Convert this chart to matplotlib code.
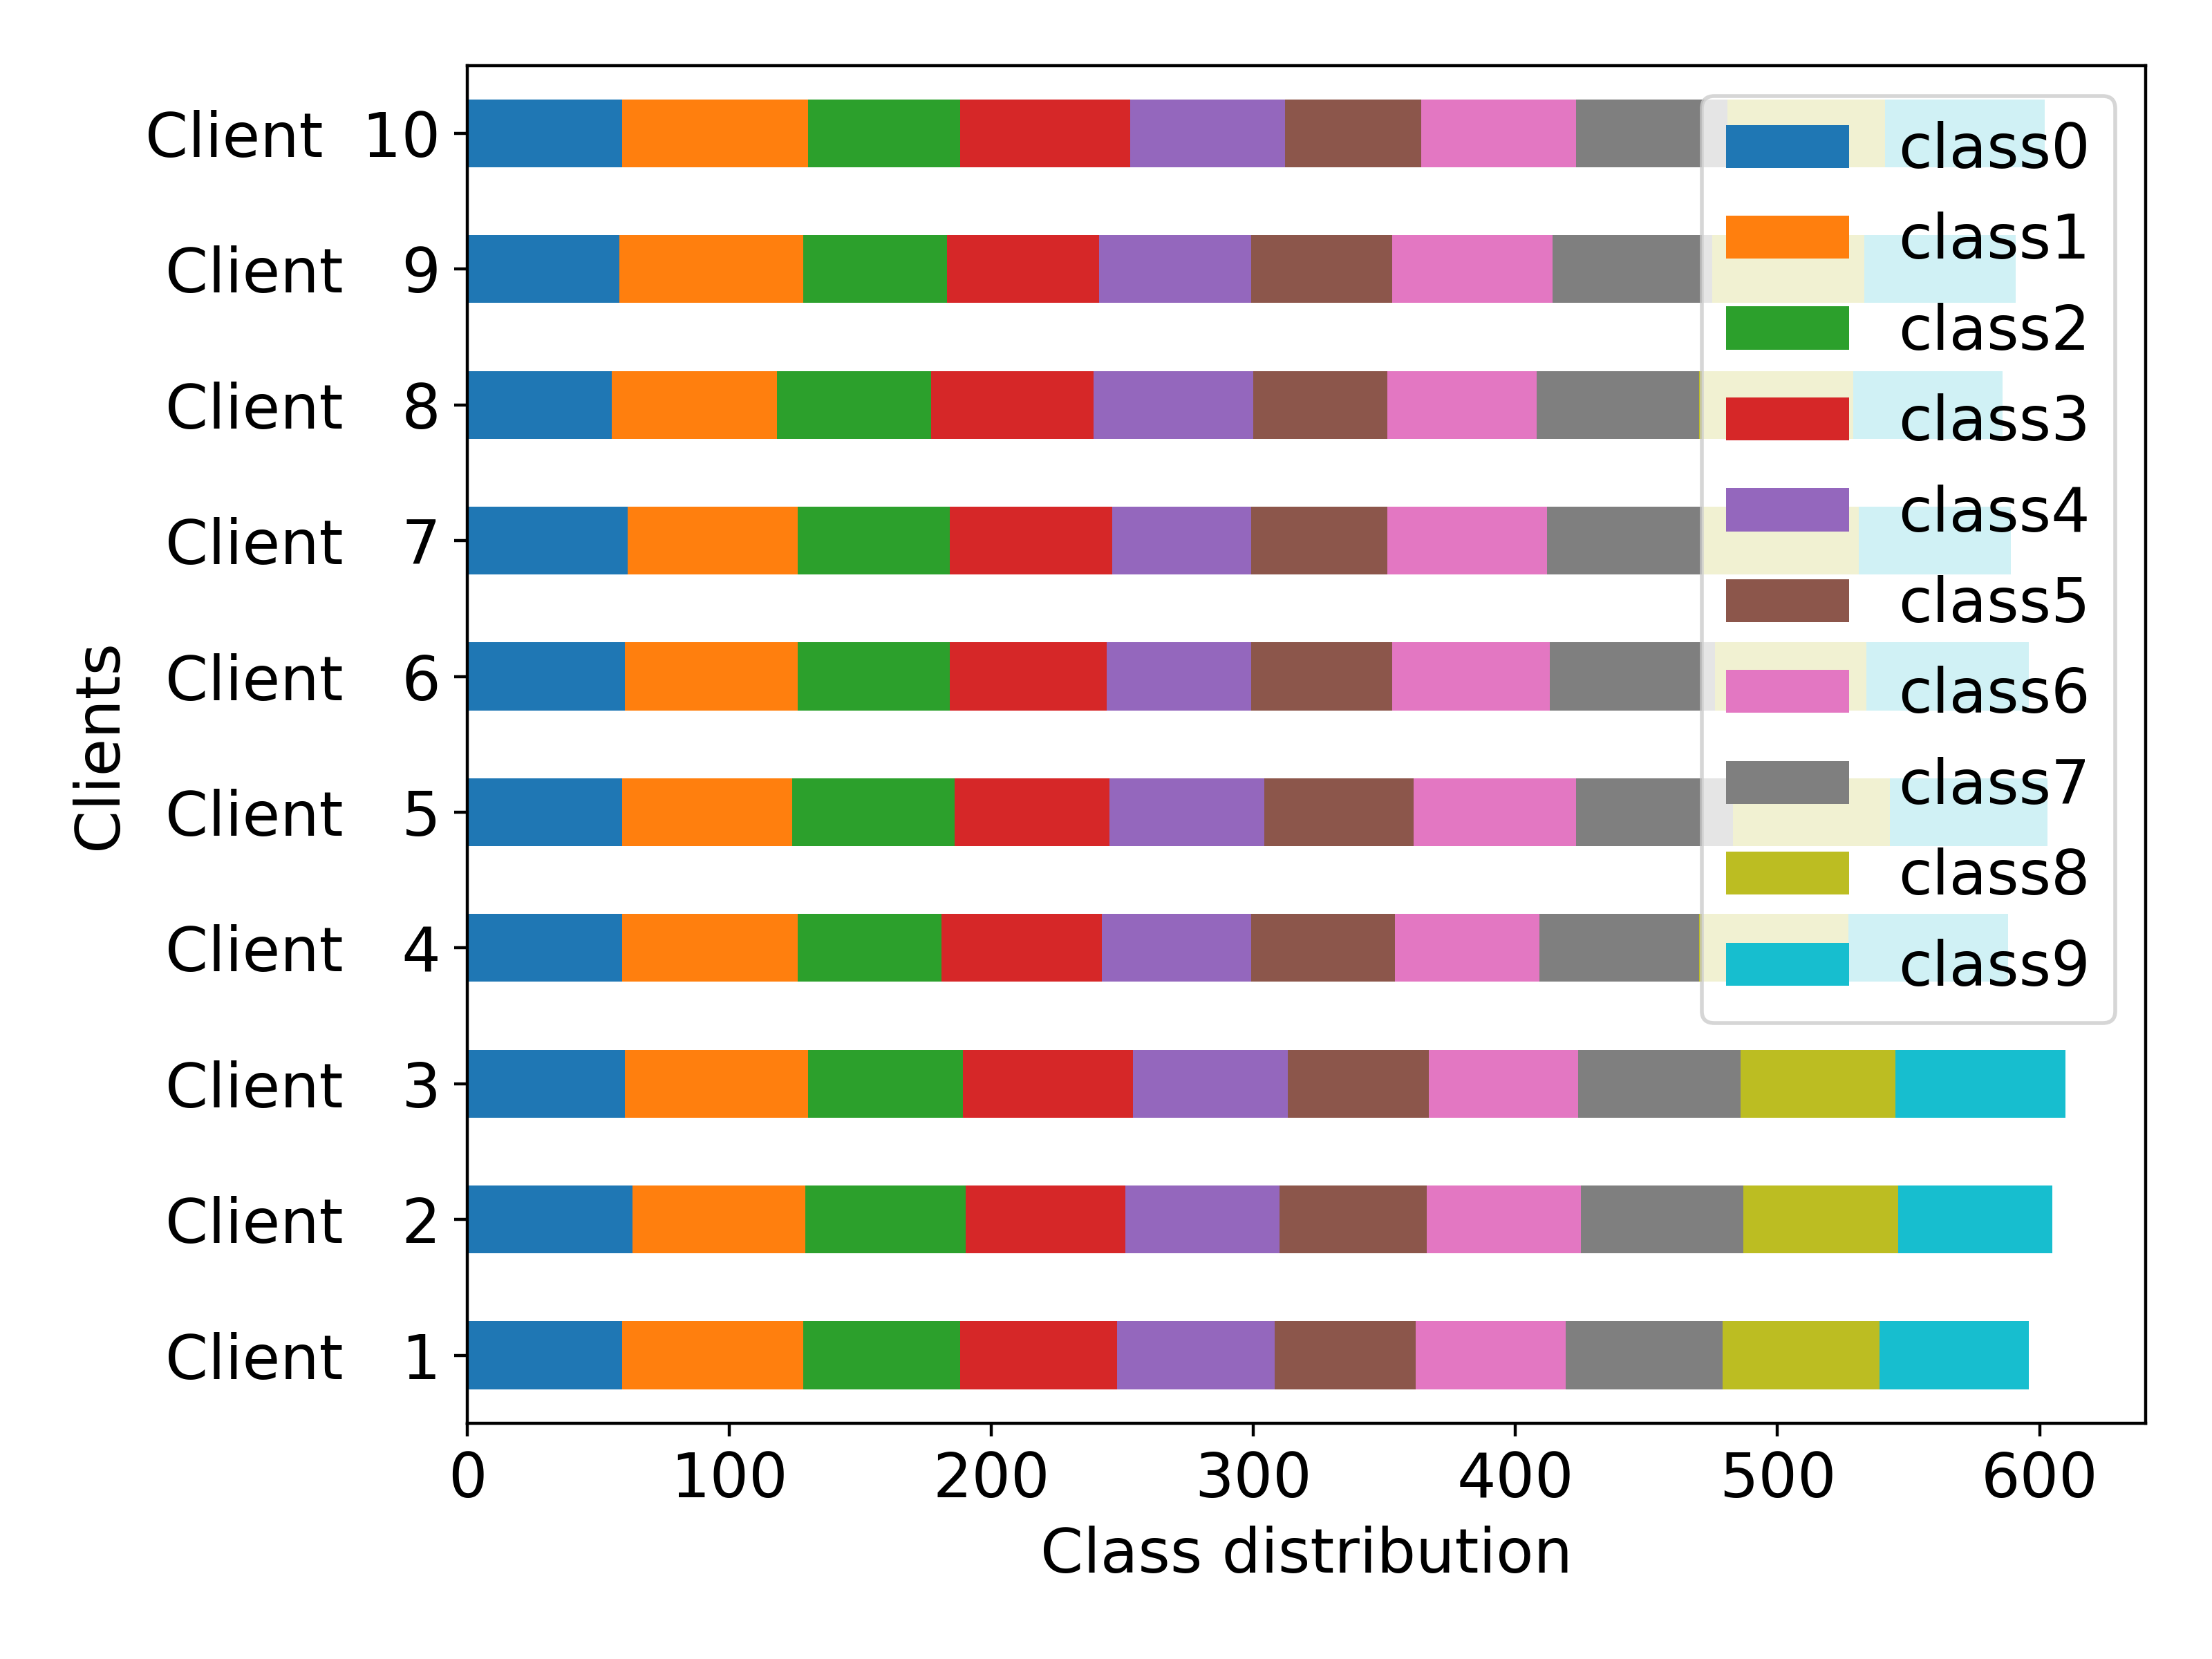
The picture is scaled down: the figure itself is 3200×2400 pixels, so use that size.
import numpy as np
import matplotlib
matplotlib.use("Agg")
import matplotlib.pyplot as plt

plt.rcParams['font.size'] = 16

clients = [1, 2, 3, 4, 5, 6, 7, 8, 9, 10]
class_names = ['class0', 'class1', 'class2', 'class3', 'class4',
               'class5', 'class6', 'class7', 'class8', 'class9']

# samples per class for each client (rows = clients 1..10)
counts = np.array([
    [59, 69, 60, 60, 60, 54, 57, 60, 60, 57],
    [63, 66, 61, 61, 59, 56, 59, 62, 59, 59],
    [60, 70, 59, 65, 59, 54, 57, 62, 59, 65],
    [59, 67, 55, 61, 57, 55, 55, 61, 57, 61],
    [59, 65, 62, 59, 59, 57, 62, 60, 60, 60],
    [60, 66, 58, 60, 55, 54, 60, 63, 58, 62],
    [61, 65, 58, 62, 53, 52, 61, 59, 60, 58],
    [55, 63, 59, 62, 61, 51, 57, 62, 59, 57],
    [58, 70, 55, 58, 58, 54, 61, 61, 58, 58],
    [59, 71, 58, 65, 59, 52, 59, 58, 60, 61],
])

fig, ax = plt.subplots(figsize=(8, 6))
fig.subplots_adjust(left=0.2114, right=0.970, bottom=0.1422, top=0.9605)

y = np.arange(len(clients))
left = np.zeros(len(clients))
for j, name in enumerate(class_names):
    ax.barh(y, counts[:, j], height=0.5, left=left, label=name, color='C%d' % j)
    left += counts[:, j]

ax.set_ylim(-0.5, len(clients) - 0.5)
ax.set_yticks(y)
ax.set_yticklabels(['Client %3d' % c for c in clients])
ax.set_xlabel('Class distribution')
ax.set_ylabel('Clients')
ax.legend(loc='upper right')

fig.savefig('out.png', dpi=400)
